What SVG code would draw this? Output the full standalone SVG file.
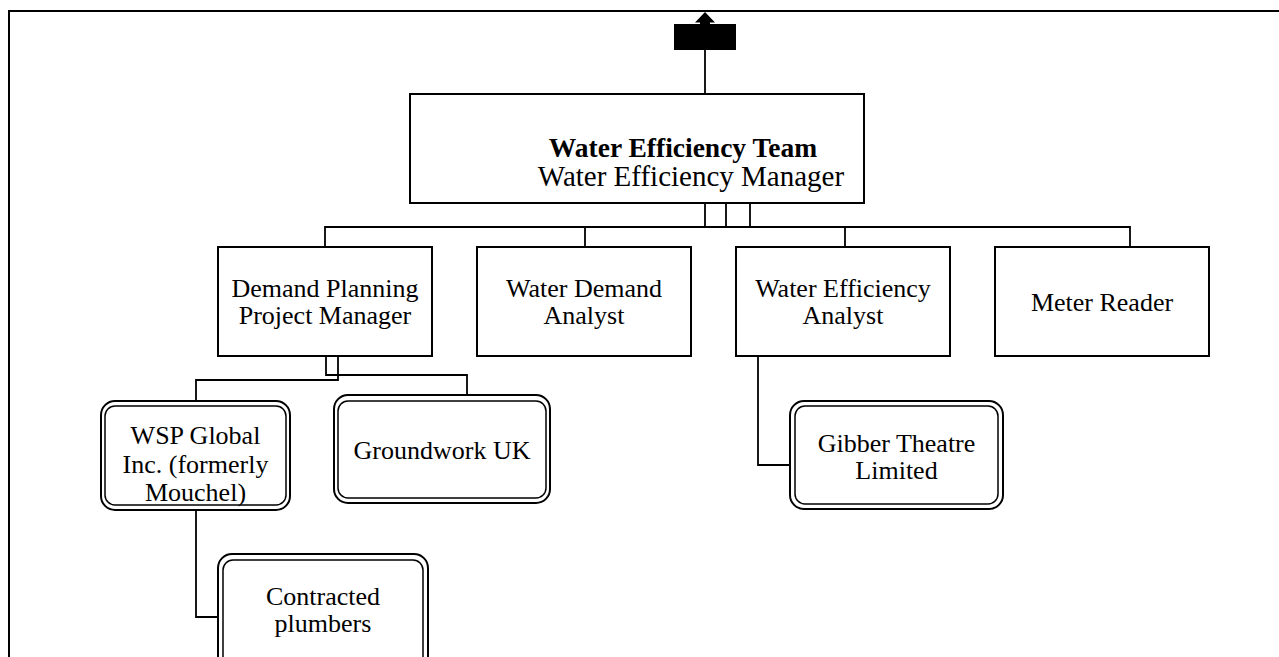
<svg xmlns="http://www.w3.org/2000/svg" width="1279" height="657" viewBox="0 0 1279 657">
  <style>
    .frame { fill: none; stroke: #000; stroke-width: 2; }
    .box { fill: #fff; stroke: #000; stroke-width: 2; }
    .outer { fill: #fff; stroke: #000; stroke-width: 2; }
    .inner { fill: none; stroke: #000; stroke-width: 1.5; }
    .wire { fill: none; stroke: #000; stroke-width: 1.8; }
    text { font-family: "Liberation Serif", "Times New Roman", serif; font-size: 26px; fill: #000; text-anchor: middle; }
    .head { font-size: 27.5px; }
    .sub { font-size: 29px; }
    .bold { font-weight: bold; }
  </style>

  <!-- page frame -->
  <path class="frame" d="M9 657 V11 H1279"/>

  <!-- connectors -->
  <g id="connectors">
    <path class="wire" d="M705 50 V94"/>
    <path class="wire" d="M705 203 V227 M726 203 V227 M750 203 V227 M705 227 H750"/>
    <path class="wire" d="M325 247 V227 H1130 V247 M585 227 V247 M845 227 V247"/>
    <path class="wire" d="M326 356 V375 H467 V400"/>
    <path class="wire" d="M338 356 V380 H196 V405"/>
    <path class="wire" d="M196 510 V617 H223"/>
    <path class="wire" d="M758 356 V465 H795"/>
  </g>

  <!-- collapsed parent marker above the team box -->
  <g id="parent-marker">
    <rect x="674" y="24" width="62" height="26" fill="#000"/>
    <polygon points="705,12 715,22.5 710,22.5 710,24 700,24 700,22.5 695,22.5" fill="#000"/>
  </g>

  <g id="team">
    <rect class="box" x="410" y="94" width="454" height="109"/>
    <text x="683" y="157" class="head bold">Water Efficiency Team</text>
    <text x="691" y="186" class="sub">Water Efficiency Manager</text>
  </g>

  <g id="demand-planning">
    <rect class="box" x="218" y="247" width="214" height="109"/>
    <text x="325" y="297">Demand Planning</text>
    <text x="325" y="324">Project Manager</text>
  </g>

  <g id="water-demand">
    <rect class="box" x="477" y="247" width="214" height="109"/>
    <text x="584" y="297">Water Demand</text>
    <text x="584" y="324">Analyst</text>
  </g>

  <g id="water-efficiency">
    <rect class="box" x="736" y="247" width="214" height="109"/>
    <text x="843" y="297">Water Efficiency</text>
    <text x="843" y="324">Analyst</text>
  </g>

  <g id="meter-reader">
    <rect class="box" x="995" y="247" width="214" height="109"/>
    <text x="1102" y="311">Meter Reader</text>
  </g>

  <g id="wsp">
    <rect class="outer" x="101" y="401" width="189" height="109" rx="14"/>
    <rect class="inner" x="105" y="406" width="181" height="99" rx="10"/>
    <text x="195.5" y="444">WSP Global</text>
    <text x="195.5" y="473">Inc. (formerly</text>
    <text x="195.5" y="501">Mouchel)</text>
  </g>

  <g id="groundwork">
    <rect class="outer" x="334" y="395" width="216" height="108" rx="14"/>
    <rect class="inner" x="338" y="401" width="208" height="97" rx="10"/>
    <text x="442" y="459">Groundwork UK</text>
  </g>

  <g id="gibber">
    <rect class="outer" x="790" y="401" width="213" height="108" rx="14"/>
    <rect class="inner" x="795" y="406" width="203" height="98" rx="10"/>
    <text x="896.5" y="452">Gibber Theatre</text>
    <text x="896.5" y="479">Limited</text>
  </g>

  <g id="plumbers">
    <rect class="outer" x="218" y="554" width="210" height="120" rx="14"/>
    <rect class="inner" x="223" y="560" width="200" height="110" rx="10"/>
    <text x="323" y="605">Contracted</text>
    <text x="323" y="632">plumbers</text>
  </g>
</svg>
